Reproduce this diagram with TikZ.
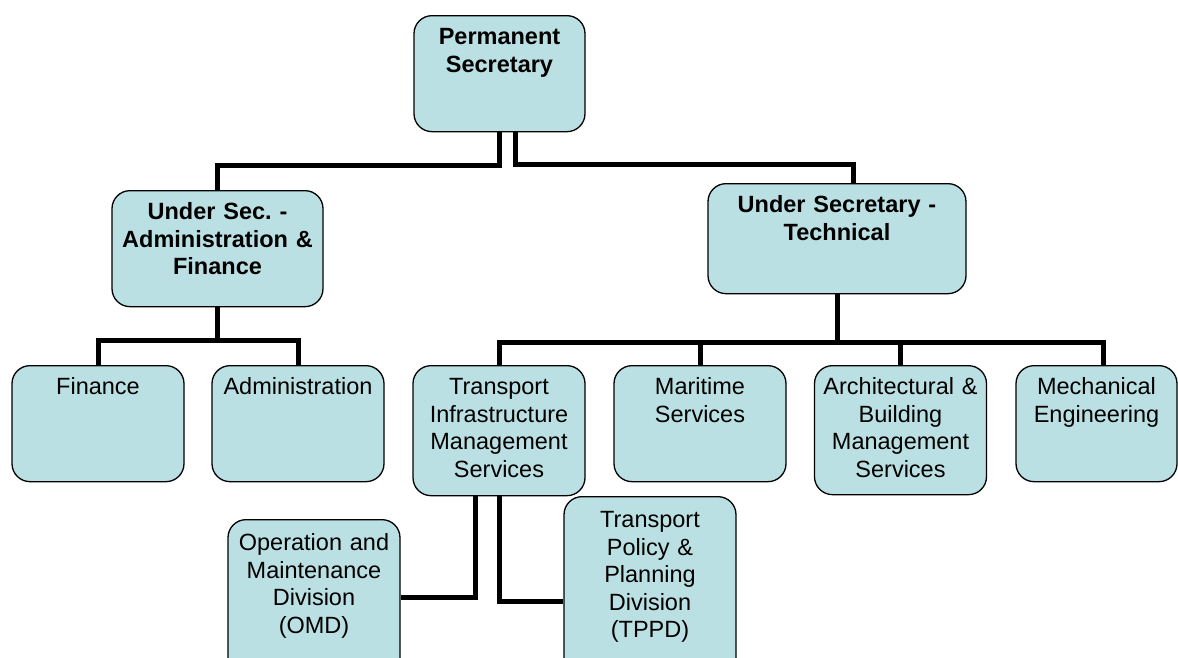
\documentclass[tikz,border=0pt]{standalone}
\usepackage{fontspec}
\setmainfont{Liberation Sans}
\frenchspacing
\definecolor{boxfill}{RGB}{187,224,227}

\begin{document}
\begin{tikzpicture}[x=1pt,y=-1pt,
  org/.style={draw,fill=boxfill,line width=1.3pt,rounded corners=18pt,anchor=north,
    inner sep=0pt,align=center,text height=29pt,
    font=\fontsize{23.5}{27.5}\selectfont},
  head/.style={org,font=\fontsize{23.5}{27.5}\selectfont\bfseries},
  link/.style={line width=5pt}]
\useasboundingbox (0,0) rectangle (1178,657);
\clip (0,0) rectangle (1178,657);

\node[head,text width=171pt,text depth=87pt] (ps) at (499.5,15) {Permanent\\Secretary};
\node[head,text width=211pt,text depth=87pt] (usaf) at (217.5,190) {Under Sec. -\\Administration \&\\Finance};
\node[head,text width=258pt,text depth=81pt] (ust) at (837,183) {Under Secretary -\\Technical};

\node[org,text width=172pt,text depth=87pt] (fin) at (98,365) {Finance};
\node[org,text width=172pt,text depth=87pt] (adm) at (298,365) {Administration};
\node[org,text width=172pt,text depth=101pt] (tims) at (499,365) {Transport\\Infrastructure\\Management\\Services};
\node[org,text width=172pt,text depth=87pt] (mar) at (700,365) {Maritime\\Services};
\node[org,text width=172pt,text depth=100pt] (abms) at (900.5,365) {Architectural \&\\Building\\Management\\Services};
\node[org,text width=161pt,text depth=87pt] (mech) at (1096.5,365) {Mechanical\\Engineering};

\node[org,text width=172pt,text height=31pt,text depth=125pt] (omd) at (314,519) {Operation and\\Maintenance\\Division\\(OMD)};
\node[org,text width=172pt,text height=31pt,text depth=179pt] (tppd) at (650,496) {Transport\\Policy \&\\Planning\\Division\\(TPPD)};

% connectors
\draw[link] (ps.south) -- ++(0,33) -| (usaf.north);
\draw[link] ([xshift=16pt]ps.south) -- ++(0,32) -| ([xshift=16pt]ust.north);
\draw[link] (usaf.south) -- ++(0,33) -| (fin.north);
\draw[link] (usaf.south) -- ++(0,33) -| (adm.north);
\draw[link] (ust.south) -- ++(0,48) -| (tims.north);
\draw[link] (ust.south) -- ++(0,48) -| (mar.north);
\draw[link] (ust.south) -- ++(0,48) -| (abms.north);
\draw[link] (ust.south) -- ++(0,48) -| ([xshift=6.5pt]mech.north);
\draw[link] ([xshift=-23.5pt]tims.south) |- (omd.east);
\draw[link] (tims.south) |- (tppd.west);
\end{tikzpicture}
\end{document}
